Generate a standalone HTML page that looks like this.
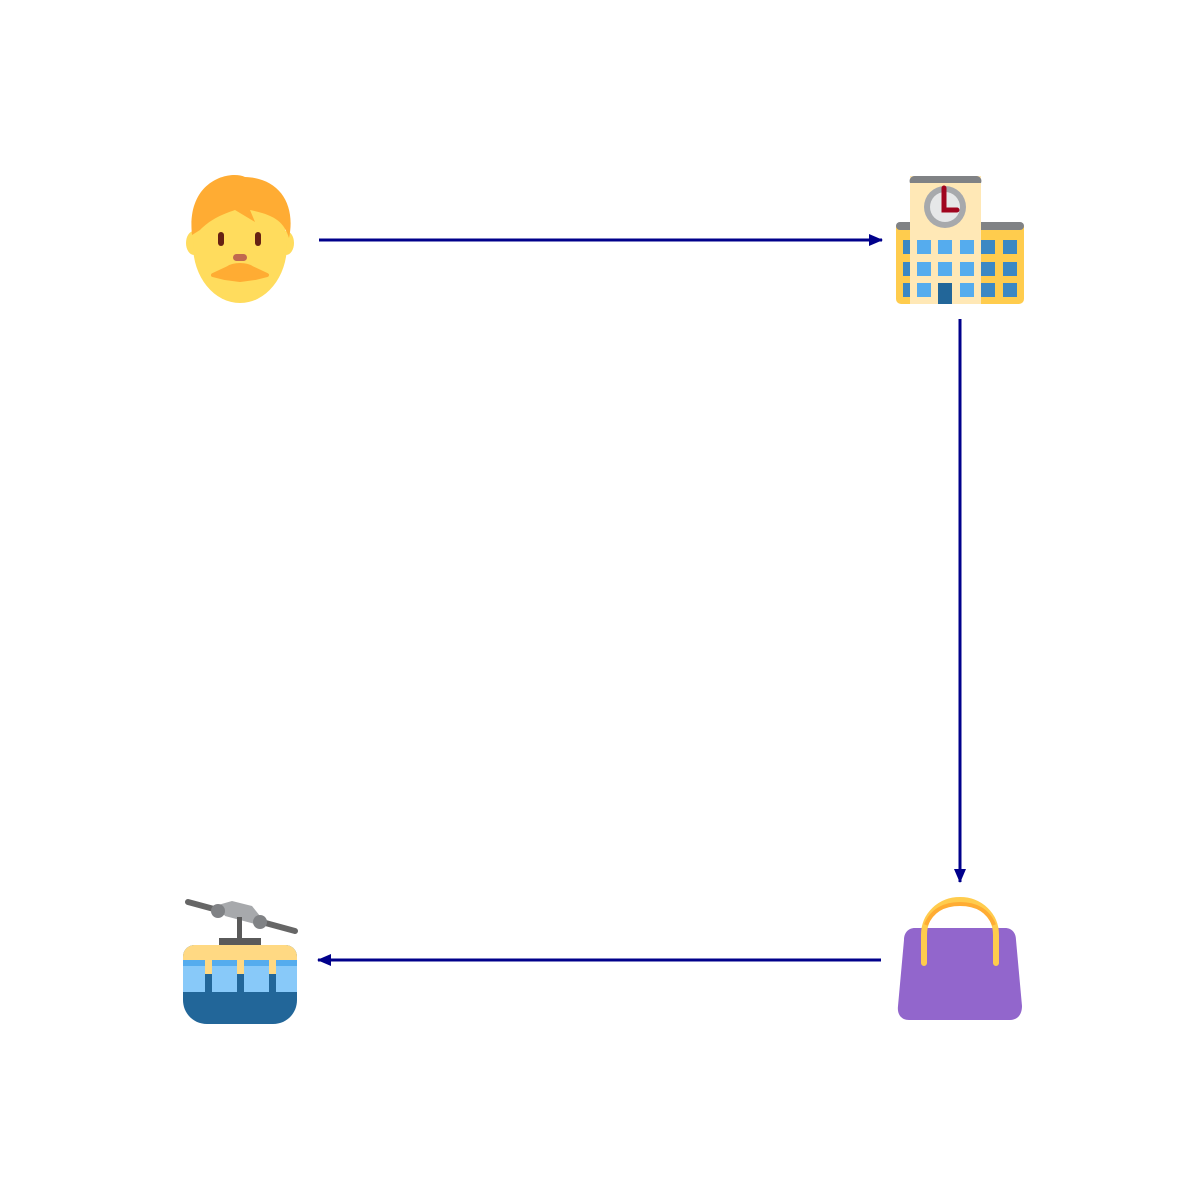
<!DOCTYPE html>
<html><head><style>html,body{margin:0;padding:0;background:#fff;width:1200px;height:1200px;overflow:hidden}svg{display:block}</style></head><body>
<svg width="1200" height="1200" viewBox="0 0 1200 1200" xmlns="http://www.w3.org/2000/svg">
<defs><marker id="a" markerWidth="14" markerHeight="12" refX="13" refY="6" orient="auto" markerUnits="userSpaceOnUse"><path d="M0,0 L14,6 L0,12 z" fill="#00008b"/></marker></defs>
<g stroke="#00008b" stroke-width="3" fill="none">
<line x1="319" y1="240" x2="882" y2="240" marker-end="url(#a)"/>
<line x1="960" y1="319" x2="960" y2="882" marker-end="url(#a)"/>
<line x1="881" y1="960" x2="318" y2="960" marker-end="url(#a)"/>
</g>
<!-- face -->
<ellipse cx="194" cy="243" rx="8" ry="12" fill="#ffdc5d"/>
<ellipse cx="286" cy="243" rx="8" ry="12" fill="#ffdc5d"/>
<ellipse cx="240" cy="245" rx="47" ry="58" fill="#ffdc5d"/>
<path d="M192,235 C186,180 230,170 245,177 C280,178 296,205 289,238 C284,222 275,215 250,210 L255,222 L235,210 C220,215 210,220 200,230 Z" fill="#ffac33"/>
<rect x="218" y="232" width="6" height="14" rx="3" fill="#662113"/>
<rect x="255" y="232" width="6" height="14" rx="3" fill="#662113"/>
<rect x="233" y="254" width="14" height="7" rx="3.5" fill="#c1694f"/>
<path d="M213,275 L228,268 C234,264 246,264 252,268 L267,275 L255,278 L240,280 L225,278 Z" fill="#ffac33" stroke="#ffac33" stroke-width="4" stroke-linejoin="round"/>
<!-- building -->
<rect x="896" y="222" width="128" height="82" rx="5" fill="#ffcc4d"/>
<rect x="896" y="222" width="128" height="8" rx="4" fill="#808285"/>
<rect x="910" y="176" width="71" height="128" fill="#ffe8b6"/>
<path d="M910,183 a5,5 0 0 1 5,-7 h61 a5,5 0 0 1 5,7 z" fill="#808285"/>
<circle cx="945" cy="207" r="21" fill="#a7a9ac"/>
<circle cx="945" cy="207" r="15" fill="#e6e7e8"/>
<path d="M944,188 V210 H957" stroke="#a0041e" stroke-width="5" fill="none" stroke-linecap="round"/>
<g fill="#3b88c3">
<rect x="903" y="240" width="7" height="14"/><rect x="903" y="262" width="7" height="14"/><rect x="903" y="283" width="7" height="14"/>
<rect x="981" y="240" width="14" height="14"/><rect x="981" y="262" width="14" height="14"/><rect x="981" y="283" width="14" height="14"/>
<rect x="1003" y="240" width="14" height="14"/><rect x="1003" y="262" width="14" height="14"/><rect x="1003" y="283" width="14" height="14"/>
</g>
<g fill="#55acee">
<rect x="917" y="240" width="14" height="14"/><rect x="938" y="240" width="14" height="14"/><rect x="960" y="240" width="14" height="14"/>
<rect x="917" y="262" width="14" height="14"/><rect x="938" y="262" width="14" height="14"/><rect x="960" y="262" width="14" height="14"/>
<rect x="917" y="283" width="14" height="14"/><rect x="960" y="283" width="14" height="14"/>
</g>
<rect x="938" y="283" width="14" height="21" fill="#269"/>
<!-- bag -->
<path d="M915,928 H1005 C1012,928 1016,933 1016,940 L1022,1006 C1022,1014 1018,1020 1010,1020 H909 C901,1020 897,1014 898,1006 L904,940 C904,933 908,928 915,928 Z" fill="#9266cc"/>
<path d="M924,963 V935 C924,915 940,900 960,900 C980,900 996,915 996,935 V963" stroke="#ffcc4d" stroke-width="6" fill="none" stroke-linecap="round"/>
<path d="M926,925 C932,910 945,904 960,904 C975,904 988,910 994,925" stroke="#ffac33" stroke-width="4" fill="none"/>
<!-- cable car -->
<line x1="188" y1="902" x2="295" y2="931" stroke="#666" stroke-width="6" stroke-linecap="round"/>
<path d="M218,905 L232,901 L252,906 L260,916 L255,924 L225,916 Z" fill="#a7a9ac"/>
<circle cx="218" cy="911" r="7" fill="#808285"/>
<circle cx="260" cy="922" r="7" fill="#808285"/>
<rect x="237" y="917" width="5" height="25" fill="#5a5a5a"/>
<rect x="219" y="938" width="42" height="7" fill="#5a5a5a"/>
<path d="M195,945 H285 C292,945 297,950 297,957 V1000 C297,1013 287,1024 273,1024 H207 C193,1024 183,1013 183,1000 V957 C183,950 188,945 195,945 Z" fill="#269"/>
<path d="M195,945 H285 C292,945 297,950 297,957 V960 H183 V957 C183,950 188,945 195,945 Z" fill="#ffd983"/>
<rect x="183" y="960" width="114" height="32" fill="#88c9f9"/>
<g fill="#55acee"><rect x="183" y="960" width="22" height="6"/><rect x="212" y="960" width="25" height="6"/><rect x="244" y="960" width="25" height="6"/><rect x="276" y="960" width="21" height="6"/></g>
<g fill="#ffd983"><rect x="205" y="960" width="7" height="14"/><rect x="237" y="960" width="7" height="14"/><rect x="269" y="960" width="7" height="14"/></g>
<g fill="#269"><rect x="205" y="974" width="7" height="18"/><rect x="237" y="974" width="7" height="18"/><rect x="269" y="974" width="7" height="18"/></g>
</svg>
</body></html>
